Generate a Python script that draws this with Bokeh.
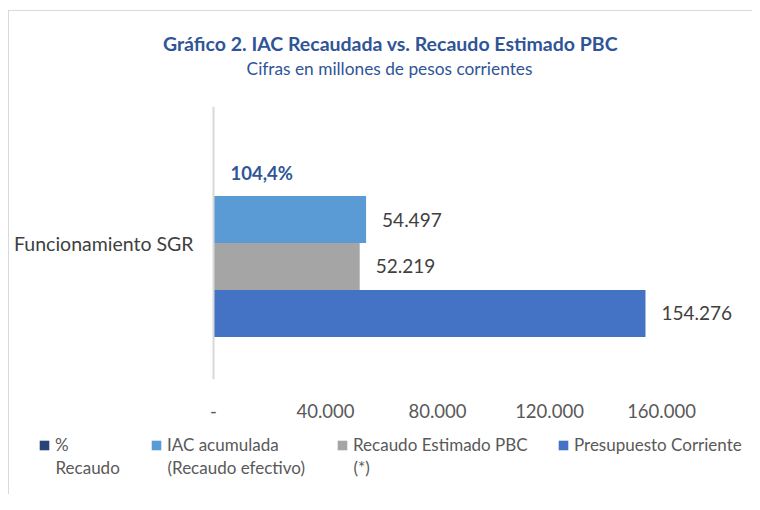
from bokeh.plotting import figure
from bokeh.layouts import column
from bokeh.models import (ColumnDataSource, FactorRange, Range1d, Legend, LegendItem,
                          Label, FixedTicker, Span)
from bokeh.transform import dodge
from bokeh.core.properties import value
from bokeh.embed import file_html
from bokeh.resources import INLINE

# ---- data ----
category = ["Funcionamiento SGR"]
series_first_line = ["%", "IAC acumulada", "Recaudo Estimado PBC", "Presupuesto Corriente"]
series_second_line = ["Recaudo", "(Recaudo efectivo)", "(*)", ""]
pct_recaudo = [104.4]
iac_acumulada = [54497]
recaudo_estimado = [52219]
presupuesto_corriente = [154276]
x_ticks = [0, 40000, 80000, 120000, 160000]
x_tick_labels = ["-", "40.000", "80.000", "120.000", "160.000"]
colors = ["#264478", "#5B9BD5", "#A5A5A5", "#4472C4"]
title_text = "Gráfico 2. IAC Recaudada vs. Recaudo Estimado PBC"
subtitle_text = "Cifras en millones de pesos corrientes"

FONT = "Lato"
W = 743            # content width in px
AXIS_PX = 204      # pixel position of the value axis origin
PX_PER_UNIT = 112 / 40000

def fmt_num(v):
    return f"{v:,}".replace(",", ".")

def fmt_pct(v):
    return f"{v:.1f}%".replace(".", ",")

def blank_fig(height):
    f = figure(width=W, height=height, output_backend="svg", toolbar_location=None,
               x_axis_type=None, y_axis_type=None, x_range=Range1d(0, 1), y_range=Range1d(0, 1),
               min_border=0)
    f.outline_line_color = None
    return f

# ---- title strip ----
top = blank_fig(80)
top.add_layout(Label(x=381, y=48, x_units="screen", y_units="screen", text=title_text,
                     text_align="center", text_baseline="middle",
                     text_font=FONT, text_font_size="19.5px", text_font_style="bold",
                     text_color="#2F5597"))
top.add_layout(Label(x=380, y=23, x_units="screen", y_units="screen", text=subtitle_text,
                     text_align="center", text_baseline="middle",
                     text_font=FONT, text_font_size="17.3px",
                     text_color="#2F5597"))

# ---- main chart ----
p = figure(width=W, height=329, output_backend="svg", toolbar_location=None,
           y_range=FactorRange(factors=category, range_padding=0),
           x_range=Range1d(-AXIS_PX / PX_PER_UNIT, (W - AXIS_PX) / PX_PER_UNIT),
           y_axis_location=None,
           min_border_left=0, min_border_right=0, min_border_top=15, min_border_bottom=40)
p.outline_line_color = None
p.xgrid.grid_line_color = None
p.ygrid.grid_line_color = None

h = 0.172
offsets = [1.5 * h, 0.5 * h, -0.5 * h, -1.5 * h]
series_vals = [[v / 100 for v in pct_recaudo], iac_acumulada, recaudo_estimado, presupuesto_corriente]
series_labels = [[fmt_pct(v) for v in pct_recaudo],
                 [fmt_num(v) for v in iac_acumulada],
                 [fmt_num(v) for v in recaudo_estimado],
                 [fmt_num(v) for v in presupuesto_corriente]]

# category axis line at the value origin
p.add_layout(Span(location=x_ticks[0], dimension="height", line_color="#D9D9D9", line_width=2))

for i in range(4):
    src = ColumnDataSource(dict(cat=category, v=series_vals[i], lab=series_labels[i]))
    yd = dodge("cat", offsets[i], range=p.y_range)
    p.hbar(y=yd, left=x_ticks[0], right="v", height=h, source=src,
           fill_color=colors[i], line_color=None)
    if i == 0:
        p.text(x="v", y=yd, text="lab", source=src, x_offset=17,
               text_baseline="middle", text_align="left",
               text_font=value(FONT), text_font_size="18.5px", text_font_style="bold",
               text_color="#2F5597")
    else:
        p.text(x="v", y=yd, text="lab", source=src, x_offset=16,
               text_baseline="middle", text_align="left",
               text_font=value(FONT), text_font_size="19px", text_color="#404040")

# category label (left of the category axis line)
cat_src = ColumnDataSource(dict(cat=category, base=[x_ticks[0]] * len(category)))
p.text(x="base", y="cat", text="cat", source=cat_src, x_offset=-20,
       text_align="right", text_baseline="middle",
       text_font=value(FONT), text_font_size="19.5px", text_color="#404040")

p.xaxis.ticker = FixedTicker(ticks=x_ticks)
p.xaxis.major_label_overrides = {t: l for t, l in zip(x_ticks, x_tick_labels)}
p.xaxis.axis_line_color = None
p.xaxis.major_tick_line_color = None
p.xaxis.minor_tick_line_color = None
p.xaxis.major_label_standoff = 18
p.xaxis.major_label_text_font = FONT
p.xaxis.major_label_text_font_size = "18.5px"
p.xaxis.major_label_text_color = "#595959"

# ---- legend strip ----
leg = blank_fig(74)
legend_x = [29, 141, 327, 548]
for i in range(4):
    r = leg.hbar(y=[0], left=0, right=[series_vals[i][0]], height=0,
                 fill_color=colors[i], line_color=None)
    lg = Legend(items=[LegendItem(label=series_first_line[i], renderers=[r])],
                location=(legend_x[i], 39), glyph_width=12, glyph_height=12,
                label_standoff=5, label_text_font=FONT, label_text_font_size="17px",
                label_text_color="#595959", border_line_color=None,
                background_fill_alpha=0, padding=0, margin=0)
    leg.add_layout(lg, "center")
    if series_second_line[i]:
        leg.add_layout(Label(x=legend_x[i] + 17, y=27, x_units="screen", y_units="screen",
                             text=series_second_line[i], text_baseline="middle",
                             text_font=FONT, text_font_size="17px", text_color="#595959"))

layout = column(top, p, leg, spacing=0,
                styles={"margin-left": "8px", "margin-top": "10px",
                        "border-left": "1px solid #D9D9D9", "border-top": "1px solid #D9D9D9"})

open("out.html", "w").write(file_html(layout, INLINE))
